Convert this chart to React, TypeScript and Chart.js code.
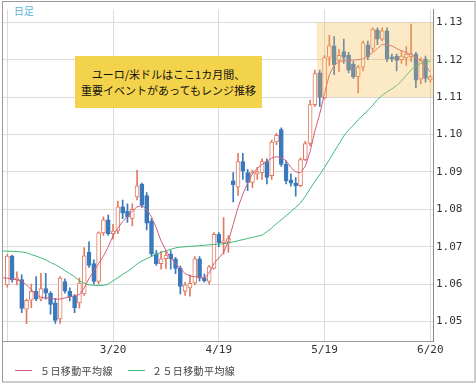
import React, { useEffect, useRef } from 'react';
import { Chart, registerables } from 'chart.js';

Chart.register(...registerables);

// Trading days (index 0 is the day before the first visible candle)
const dates = [
  '2/15', '2/16', '2/17', '2/20', '2/21', '2/22', '2/23', '2/24', '2/27', '2/28',
  '3/1', '3/2', '3/3', '3/6', '3/7', '3/8', '3/9', '3/10', '3/13', '3/14',
  '3/15', '3/16', '3/17', '3/20', '3/21', '3/22', '3/23', '3/24', '3/27', '3/28',
  '3/29', '3/30', '3/31', '4/3', '4/4', '4/5', '4/6', '4/7', '4/10', '4/11',
  '4/12', '4/13', '4/14', '4/17', '4/18', '4/19', '4/20', '4/21', '4/24', '4/25',
  '4/26', '4/27', '4/28', '5/1', '5/2', '5/3', '5/4', '5/5', '5/8', '5/9',
  '5/10', '5/11', '5/12', '5/15', '5/16', '5/17', '5/18', '5/19', '5/22', '5/23',
  '5/24', '5/25', '5/26', '5/29', '5/30', '5/31', '6/1', '6/2', '6/5', '6/6',
  '6/7', '6/8', '6/9', '6/12', '6/13', '6/14', '6/15', '6/16', '6/19', '6/20',
];

const opens = [
  null, 1.0598, 1.0675, 1.0612, 1.0612, 1.0533, 1.0557, 1.0581, 1.0560, 1.0588,
  1.0576, 1.0550, 1.0507, 1.0607, 1.0581, 1.0568, 1.0550, 1.0574, 1.0685, 1.0655,
  1.0607, 1.0737, 1.0772, 1.0735, 1.0742, 1.0807, 1.0795, 1.0776, 1.0833, 1.0867,
  1.0837, 1.0768, 1.0681, 1.0655, 1.0668, 1.0680, 1.0668, 1.0642, 1.0581, 1.0590,
  1.0603, 1.0668, 1.0617, 1.0607, 1.0642, 1.0733, 1.0711, 1.0712, 1.0876, 1.0859,
  1.0928, 1.0898, 1.0872, 1.0894, 1.0898, 1.0928, 1.0890, 1.0980, 1.1013, 1.0920,
  1.0879, 1.0870, 1.0863, 1.0933, 1.0976, 1.1080, 1.1165, 1.1098, 1.1206, 1.1237,
  1.1198, 1.1222, 1.1212, 1.1188, 1.1154, 1.1180, 1.1240, 1.1230, 1.1280, 1.1255,
  1.1277, 1.1208, 1.1210, 1.1200, 1.1205, 1.1208, 1.1215, 1.1148, 1.1202, 1.1146,
];
const highs = [
  null, 1.0680, 1.0678, 1.0633, 1.0625, 1.0560, 1.0600, 1.0620, 1.0629, 1.0629,
  1.0580, 1.0562, 1.0620, 1.0614, 1.0590, 1.0572, 1.0616, 1.0698, 1.0713, 1.0665,
  1.0740, 1.0780, 1.0785, 1.0760, 1.0822, 1.0825, 1.0815, 1.0815, 1.0904, 1.0870,
  1.0845, 1.0775, 1.0690, 1.0688, 1.0688, 1.0690, 1.0672, 1.0648, 1.0605, 1.0625,
  1.0674, 1.0674, 1.0627, 1.0650, 1.0738, 1.0738, 1.0778, 1.0730, 1.0898, 1.0950,
  1.0950, 1.0907, 1.0905, 1.0912, 1.0935, 1.0935, 1.0985, 1.1003, 1.1018, 1.0930,
  1.0895, 1.0885, 1.0938, 1.0982, 1.1092, 1.1172, 1.1172, 1.1212, 1.1265, 1.1262,
  1.1228, 1.1255, 1.1220, 1.1195, 1.1185, 1.1250, 1.1250, 1.1285, 1.1285, 1.1285,
  1.1285, 1.1215, 1.1215, 1.1225, 1.1235, 1.1295, 1.1220, 1.1205, 1.1210, 1.1158,
];
const lows = [
  null, 1.0592, 1.0605, 1.0598, 1.0524, 1.0494, 1.0537, 1.0556, 1.0555, 1.0560,
  1.0520, 1.0495, 1.0495, 1.0576, 1.0555, 1.0524, 1.0536, 1.0570, 1.0645, 1.0600,
  1.0600, 1.0730, 1.0730, 1.0720, 1.0735, 1.0775, 1.0765, 1.0756, 1.0825, 1.0805,
  1.0745, 1.0675, 1.0650, 1.0640, 1.0642, 1.0640, 1.0628, 1.0574, 1.0570, 1.0568,
  1.0598, 1.0608, 1.0605, 1.0600, 1.0640, 1.0700, 1.0681, 1.0685, 1.0820, 1.0837,
  1.0880, 1.0850, 1.0858, 1.0880, 1.0880, 1.0868, 1.0880, 1.0973, 1.0915, 1.0868,
  1.0862, 1.0835, 1.0860, 1.0930, 1.0970, 1.1075, 1.1075, 1.1095, 1.1185, 1.1160,
  1.1168, 1.1190, 1.1165, 1.1150, 1.1111, 1.1170, 1.1200, 1.1222, 1.1240, 1.1250,
  1.1195, 1.1195, 1.1170, 1.1190, 1.1185, 1.1195, 1.1125, 1.1135, 1.1140, 1.1140,
];
const closes = [
  null, 1.0675, 1.0612, 1.0617, 1.0535, 1.0557, 1.0581, 1.0560, 1.0588, 1.0576,
  1.0546, 1.0503, 1.0616, 1.0581, 1.0566, 1.0537, 1.0603, 1.0676, 1.0650, 1.0607,
  1.0737, 1.0772, 1.0735, 1.0742, 1.0807, 1.0790, 1.0780, 1.0800, 1.0863, 1.0811,
  1.0763, 1.0681, 1.0655, 1.0668, 1.0678, 1.0668, 1.0642, 1.0594, 1.0598, 1.0602,
  1.0668, 1.0616, 1.0609, 1.0646, 1.0733, 1.0711, 1.0716, 1.0722, 1.0866, 1.0928,
  1.0902, 1.0872, 1.0898, 1.0900, 1.0928, 1.0885, 1.0980, 1.0998, 1.0920, 1.0876,
  1.0870, 1.0863, 1.0933, 1.0976, 1.1080, 1.1163, 1.1100, 1.1206, 1.1238, 1.1187,
  1.1212, 1.1206, 1.1172, 1.1154, 1.1180, 1.1245, 1.1208, 1.1282, 1.1255, 1.1277,
  1.1202, 1.1203, 1.1198, 1.1210, 1.1215, 1.1216, 1.1145, 1.1198, 1.1150, 1.1154,
];

// 5-day and 25-day moving averages
const ma5 = [
  1.0617, 1.0616, 1.0614, 1.0611, 1.0608, 1.0598, 1.0585, 1.0572, 1.0565, 1.0563,
  1.0563, 1.0560, 1.0560, 1.0563, 1.0566, 1.0569, 1.0572, 1.0590, 1.0615, 1.0635,
  1.0655, 1.0675, 1.0700, 1.0729, 1.0750, 1.0767, 1.0780, 1.0795, 1.0807, 1.0810,
  1.0800, 1.0780, 1.0750, 1.0715, 1.0690, 1.0670, 1.0655, 1.0642, 1.0628, 1.0622,
  1.0620, 1.0618, 1.0616, 1.0630, 1.0655, 1.0670, 1.0685, 1.0715, 1.0760, 1.0805,
  1.0840, 1.0870, 1.0895, 1.0910, 1.0920, 1.0928, 1.0937, 1.0941, 1.0938, 1.0930,
  1.0912, 1.0900, 1.0898, 1.0915, 1.0955, 1.1010, 1.1055, 1.1110, 1.1160, 1.1185,
  1.1195, 1.1197, 1.1198, 1.1199, 1.1200, 1.1202, 1.1210, 1.1219, 1.1230, 1.1241,
  1.1240, 1.1237, 1.1230, 1.1224, 1.1219, 1.1214, 1.1206, 1.1198, 1.1185, 1.1167,
];
const ma25 = [
  1.0689, 1.0688, 1.0688, 1.0687, 1.0686, 1.0684, 1.0679, 1.0675, 1.0670, 1.0665,
  1.0658, 1.0652, 1.0645, 1.0636, 1.0628, 1.0620, 1.0609, 1.0602, 1.0598, 1.0597,
  1.0596, 1.0597, 1.0600, 1.0609, 1.0617, 1.0626, 1.0634, 1.0643, 1.0654, 1.0662,
  1.0668, 1.0674, 1.0680, 1.0685, 1.0689, 1.0693, 1.0697, 1.0699, 1.0700, 1.0701,
  1.0702, 1.0703, 1.0704, 1.0705, 1.0706, 1.0707, 1.0708, 1.0710, 1.0713, 1.0716,
  1.0719, 1.0722, 1.0725, 1.0728, 1.0731, 1.0740, 1.0750, 1.0762, 1.0772, 1.0783,
  1.0794, 1.0805, 1.0817, 1.0835, 1.0855, 1.0875, 1.0893, 1.0912, 1.0933, 1.0954,
  1.0975, 1.0996, 1.1012, 1.1025, 1.1040, 1.1052, 1.1064, 1.1078, 1.1093, 1.1105,
  1.1114, 1.1122, 1.1131, 1.1143, 1.1158, 1.1173, 1.1183, 1.1190, 1.1194, 1.1196,
];

const xTickIndex = [1, 23, 45, 67, 89];
const hiddenTickLabels = ['2/16'];
const yTicks = [1.05, 1.06, 1.07, 1.08, 1.09, 1.10, 1.11, 1.12, 1.13];
const xMin = -0.1;
const xMax = 89.56;
const yMin = 1.0448;
const yMax = 1.1334;

// Highlighted range (from index, price band)
const rangeBox = { fromIndex: 65.4, low: 1.11, high: 1.13 };

const periodLabel = '日足';
const noteLines = ['ユーロ/米ドルはここ1カ月間、', '重要イベントがあってもレンジ推移'];
const legendLabels = ['５日移動平均線', '２５日移動平均線'];

const UP = '#e07a60';
const DOWN = '#3b79bd';
const MA5_COLOR = '#cf5f7c';
const MA25_COLOR = '#3dba78';

const overlayPlugin = {
  id: 'overlays',
  afterDatasetsDraw(chart: any) {
    const { ctx, chartArea, scales } = chart;
    const x = scales.x;
    const y = scales.y;
    const left = x.getPixelForValue(rangeBox.fromIndex);
    const top = y.getPixelForValue(rangeBox.high);
    const bottom = y.getPixelForValue(rangeBox.low);
    ctx.save();
    ctx.fillStyle = 'rgba(245, 190, 80, 0.32)';
    ctx.fillRect(left, top, chartArea.right - left, bottom - top);
    ctx.restore();
  },
  afterDraw(chart: any) {
    const { ctx, chartArea } = chart;
    ctx.save();
    ctx.strokeStyle = '#9a9a9a';
    ctx.lineWidth = 1;
    ctx.strokeRect(2.5, 1.5, chart.width - 3.5, chart.height - 2.5);
    ctx.strokeStyle = '#8a8a8a';
    ctx.beginPath();
    ctx.moveTo(Math.round(chartArea.right) + 0.5, chartArea.top);
    ctx.lineTo(Math.round(chartArea.right) + 0.5, chartArea.bottom);
    ctx.stroke();
    ctx.restore();
  },
};

export default function App() {
  const canvasRef = useRef<HTMLCanvasElement | null>(null);

  useEffect(() => {
    const canvas = canvasRef.current;
    if (!canvas) return;
    const idx = dates.map((_, i) => i).filter((i) => opens[i] !== null);
    const isUp = (i: number) => (closes[i] as number) >= (opens[i] as number);

    const chart = new Chart(canvas, {
      type: 'bar',
      data: {
        datasets: [
          {
            type: 'line',
            label: legendLabels[0],
            data: ma5.map((v, i) => ({ x: i, y: v })),
            borderColor: MA5_COLOR,
            borderWidth: 1,
            pointRadius: 0,
            tension: 0,
            order: 1,
          } as any,
          {
            type: 'line',
            label: legendLabels[1],
            data: ma25.map((v, i) => ({ x: i, y: v })),
            borderColor: MA25_COLOR,
            borderWidth: 1,
            pointRadius: 0,
            tension: 0,
            order: 1,
          } as any,
          {
            type: 'bar',
            label: 'wick',
            data: idx.map((i) => ({ x: i, y: [lows[i], highs[i]] })),
            backgroundColor: idx.map((i) => (isUp(i) ? UP : DOWN)),
            borderWidth: 0,
            barThickness: 1,
            grouped: false,
            order: 3,
          } as any,
          {
            type: 'bar',
            label: 'body',
            data: idx.map((i) => ({ x: i, y: [opens[i], closes[i]] })),
            backgroundColor: idx.map((i) => (isUp(i) ? '#ffffff' : DOWN)),
            borderColor: idx.map((i) => (isUp(i) ? UP : DOWN)),
            borderWidth: 1,
            borderSkipped: false,
            barThickness: 4,
            minBarLength: 1,
            grouped: false,
            order: 2,
          } as any,
        ],
      },
      options: {
        responsive: false,
        animation: false,
        layout: { padding: { left: 2, top: 1, right: 0, bottom: 22 } },
        plugins: { legend: { display: false }, tooltip: { enabled: false } },
        scales: {
          x: {
            type: 'linear',
            min: xMin,
            max: xMax,
            offset: false,
            afterBuildTicks: (s: any) => {
              s.ticks = xTickIndex.map((v) => ({ value: v }));
            },
            afterFit: (s: any) => {
              s.height = 20;
            },
            ticks: {
              autoSkip: false,
              maxRotation: 0,
              padding: 3,
              color: '#333',
              font: { family: 'DejaVu Sans Mono', size: 11 },
              callback: (v: any) => {
                const d = dates[Math.round(Number(v))];
                return hiddenTickLabels.includes(d) ? '' : d;
              },
            },
            grid: { color: '#dadada', drawTicks: false, offset: false },
            border: { color: '#999' },
          },
          y: {
            type: 'linear',
            position: 'right',
            min: yMin,
            max: yMax,
            beginAtZero: false,
            afterBuildTicks: (s: any) => {
              s.ticks = yTicks.map((v) => ({ value: v }));
            },
            afterFit: (s: any) => {
              s.width = 43;
            },
            ticks: {
              padding: 3,
              color: '#333',
              font: { family: 'DejaVu Sans Mono', size: 11 },
              callback: (v: any) => Number(v).toFixed(2),
            },
            grid: { color: '#dadada', drawTicks: false },
            border: { color: '#8a8a8a' },
          },
        },
      } as any,
      plugins: [overlayPlugin],
    });
    return () => chart.destroy();
  }, []);

  return (
    <div style={{ position: 'fixed', left: 0, top: 0, width: 476, height: 383, background: '#fff', overflow: 'hidden' }}>
      <canvas ref={canvasRef} width={476} height={383} style={{ position: 'absolute', left: 0, top: 0, width: 476, height: 383 }} />
      <div style={{ position: 'absolute', left: 14, top: 5, fontFamily: '"Noto Sans CJK JP", sans-serif', fontSize: 10, color: '#5ab0dc', lineHeight: '12px' }}>
        {periodLabel}
      </div>
      <div
        style={{
          position: 'absolute', left: 75, top: 56, width: 187, height: 52, background: '#f3d34b',
          display: 'flex', flexDirection: 'column', alignItems: 'center', justifyContent: 'center',
          fontFamily: '"Noto Sans CJK JP", sans-serif', fontSize: 11, lineHeight: '16px', color: '#111',
        }}
      >
        {noteLines.map((t) => (
          <div key={t}>{t}</div>
        ))}
      </div>
      <div style={{ position: 'absolute', left: 15, top: 363, height: 14, display: 'flex', alignItems: 'center', fontFamily: '"Noto Sans CJK JP", sans-serif', fontSize: 10, color: '#444', letterSpacing: '0.4px' }}>
        <span style={{ display: 'inline-block', width: 17, height: 1, background: MA5_COLOR, marginRight: 8 }} />
        <span style={{ width: 88 }}>{legendLabels[0]}</span>
        <span style={{ display: 'inline-block', width: 17, height: 1, background: MA25_COLOR, marginRight: 7 }} />
        <span>{legendLabels[1]}</span>
      </div>
    </div>
  );
}
